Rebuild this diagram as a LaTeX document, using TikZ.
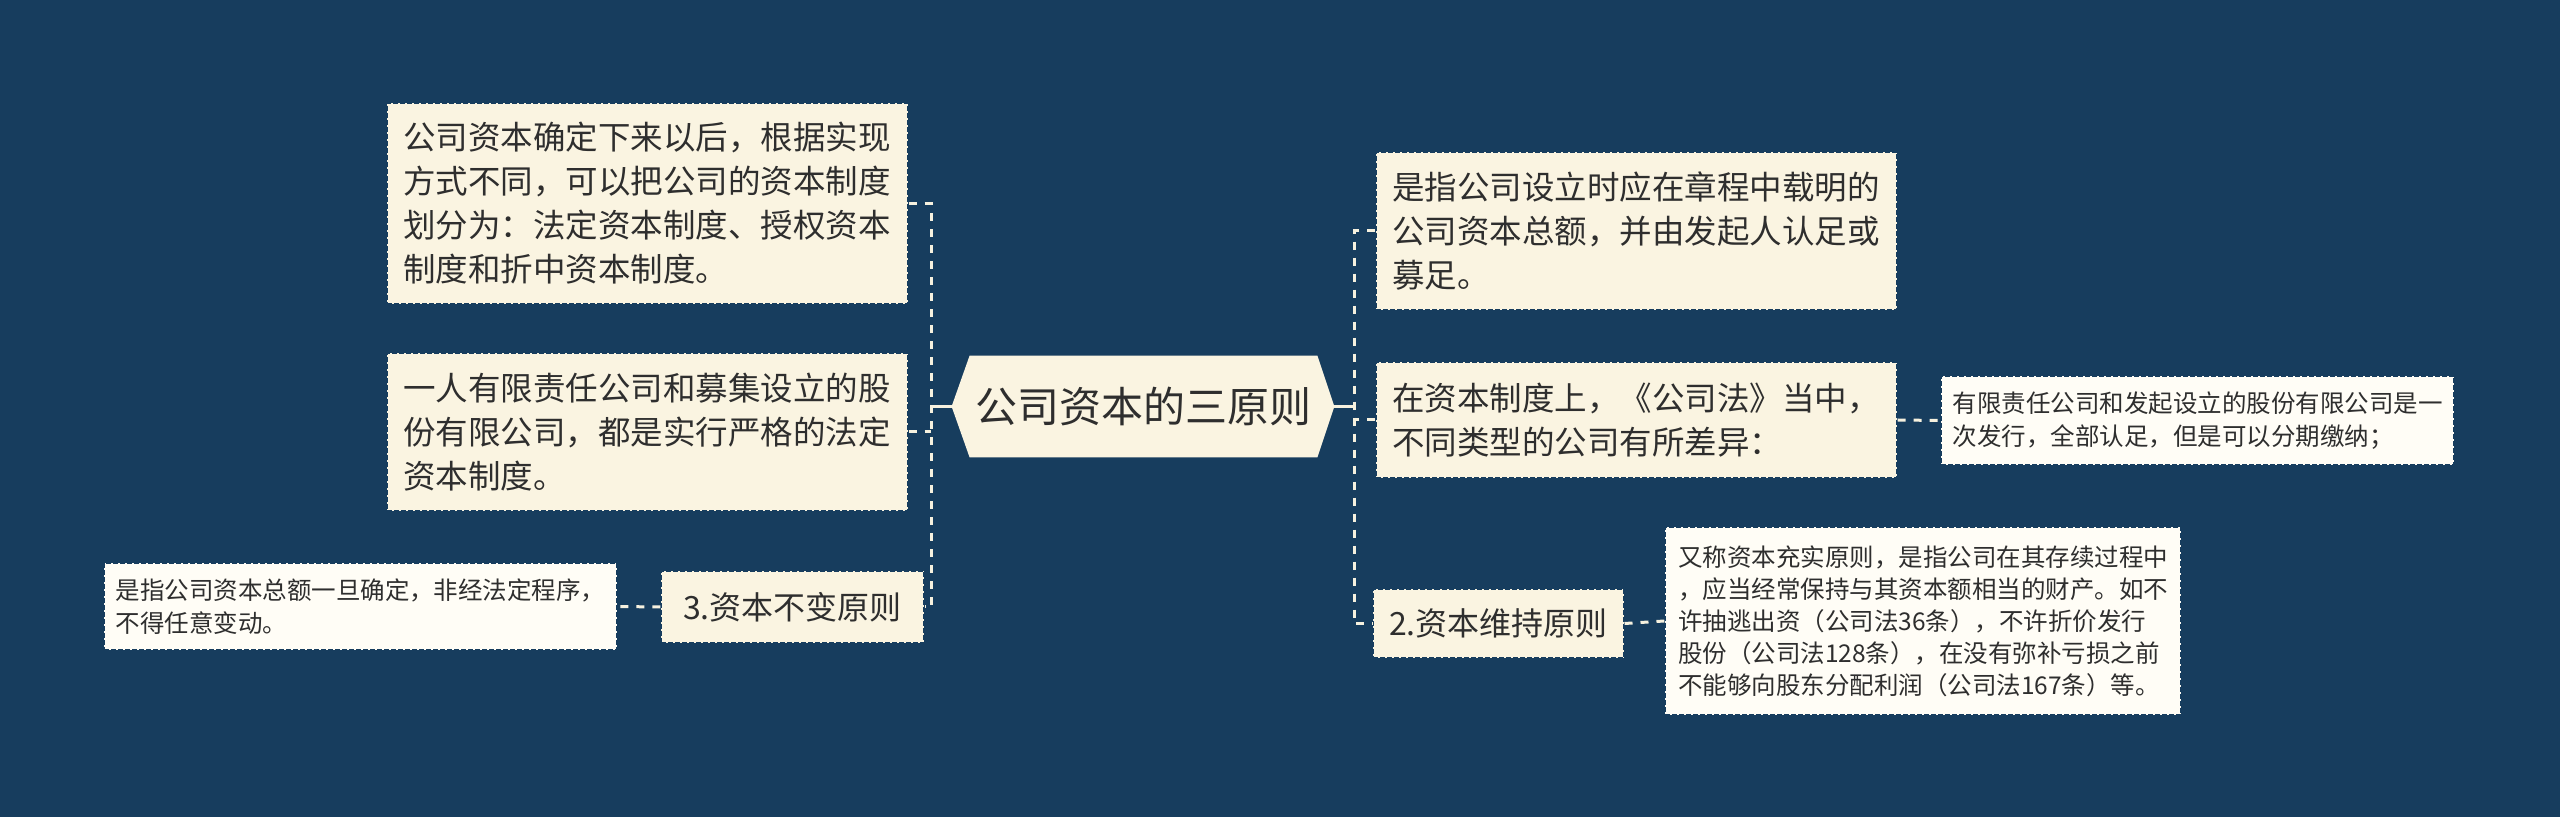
\documentclass[tikz,border=0pt]{standalone}
\usepackage{fontspec}
\newfontfamily\cjk{Noto Sans CJK SC}
\usetikzlibrary{backgrounds}
\definecolor{bgc}{HTML}{173D5E}
\definecolor{cream}{HTML}{FAF4E1}
\definecolor{leafc}{HTML}{FFFDF6}
\definecolor{txt}{HTML}{2E2E2E}
\definecolor{linec}{HTML}{F6F1DF}
\begin{document}
\begin{tikzpicture}[x=0.5pt,y=-0.5pt,
  box/.style={fill=cream, draw=bgc, dash pattern=on 2.5pt off 1pt, line width=0.7pt, inner xsep=8pt, inner ysep=0pt, align=left, text=txt},
  bigtxt/.style={font=\cjk\fontsize{16.25}{22}\selectfont},
  leaf/.style={box, fill=leafc, font=\cjk\fontsize{12.25}{16.5}\selectfont},
  conn/.style={draw=linec, line width=1.5pt, dash pattern=on 4pt off 4pt},
  trunk/.style={draw=linec, line width=1.5pt}]

% central topic
\node[text=txt, font=\cjk\fontsize{21}{26}\selectfont, minimum width=191pt, minimum height=50.5pt, inner sep=0pt] (center) at (1143,406.5) {公司资本的三原则};

% left side
\node[box, bigtxt, minimum width=260.5pt, minimum height=100.5pt, text width=244.5pt] (A) at (647.5,203.5)
  {公司资本确定下来以后，根据实现\\方式不同，可以把公司的资本制度\\划分为：法定资本制度、授权资本\\制度和折中资本制度。};
\node[box, bigtxt, minimum width=260.5pt, minimum height=79pt, text width=244.5pt] (B) at (647.5,432)
  {一人有限责任公司和募集设立的股\\份有限公司，都是实行严格的法定\\资本制度。};
\node[box, align=center, font=\cjk\fontsize{16}{20}\selectfont, minimum width=131.5pt, minimum height=36pt] (C) at (792.5,607) {3.资本不变原则};
\node[leaf, minimum width=256.5pt, minimum height=43.5pt, text width=245pt, inner xsep=5.75pt] (D) at (360.5,606.5)
  {是指公司资本总额一旦确定，非经法定程序，\\不得任意变动。};

% right side
\node[box, bigtxt, minimum width=260.5pt, minimum height=79pt, text width=244.5pt] (E) at (1636.5,231)
  {是指公司设立时应在章程中载明的\\公司资本总额，并由发起人认足或\\募足。};
\node[box, bigtxt, minimum width=260.5pt, minimum height=58pt, text width=244.5pt] (F) at (1636.5,420)
  {在资本制度上，《公司法》当中，\\不同类型的公司有所差异：};
\node[leaf, minimum width=256.5pt, minimum height=44.5pt, text width=245pt, inner xsep=5.75pt] (G) at (2197.5,420.5)
  {有限责任公司和发起设立的股份有限公司是一\\次发行，全部认足，但是可以分期缴纳；};
\node[box, align=center, font=\cjk\fontsize{16}{20}\selectfont, minimum width=122.5pt, minimum height=34.5pt] (H) at (1498.5,623.5) {2.资本维持原则};
\node[leaf, font=\cjk\fontsize{12.25}{16}\selectfont, minimum width=258pt, minimum height=94pt, text width=245pt, inner xsep=6.5pt] (I) at (1923,621)
  {又称资本充实原则，是指公司在其存续过程中\\，应当经常保持与其资本额相当的财产。如不\\许抽逃出资（公司法36条），不许折价发行\\股份（公司法128条），在没有弥补亏损之前\\不能够向股东分配利润（公司法167条）等。};

% spine points
\coordinate (lsp) at (931,406.5);
\coordinate (rsp) at (1354,406.5);

% connectors
\draw[trunk] (center.west) -- (lsp);
\draw[trunk] (center.east) -- (rsp);
\draw[conn] (A.east) -| (lsp) |- (C.east);
\draw[conn] (B.east) -- (B.east -| lsp);
\draw[conn] (E.west) -| (rsp) |- (H.west);
\draw[conn] (F.west) -- (F.west -| rsp);
\draw[conn] (C.west) -- (D.east);
\draw[conn] (F.east) -- (G.west);
\draw[conn] (H.east) -- (I.west);

\begin{pgfonlayer}{background}
  \fill[bgc] (0,0) rectangle (2560,817);
  \fill[cream] (center.west) -- ([xshift=9pt]center.north west) -- ([xshift=-8.5pt]center.north east)
    -- (center.east) -- ([xshift=-8.5pt]center.south east) -- ([xshift=9pt]center.south west) -- cycle;
\end{pgfonlayer}
\useasboundingbox (0,0) rectangle (2560,817);
\end{tikzpicture}
\end{document}
